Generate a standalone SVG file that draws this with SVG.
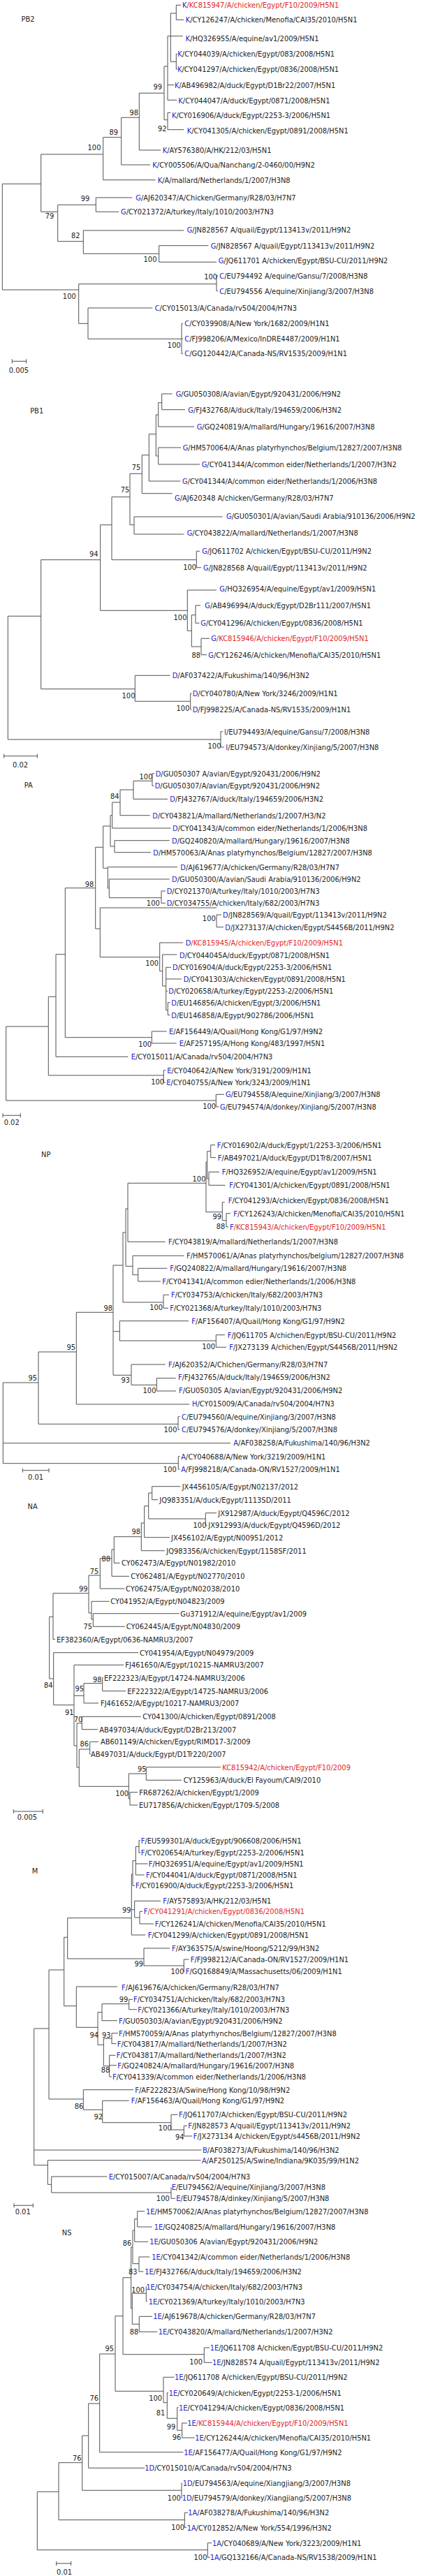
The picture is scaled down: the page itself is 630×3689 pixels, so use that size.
<svg xmlns="http://www.w3.org/2000/svg" width="630" height="3689" viewBox="0 0 630 3689">
<style>
text{font-family:"Liberation Sans Narrow","Arial Narrow","DejaVu Sans Condensed",sans-serif;font-size:11px;fill:#222}
.b{fill:#2424c8}
.r{fill:#e0262b}
.s{text-anchor:middle}
.ln path{fill:none;stroke:#505050;stroke-width:1}
</style>
<rect width="630" height="3689" fill="#fff"/>
<g id="connectors" class="ln">
<path id="e-pb2" d="M252.3,7.3V28.3M252.3,7.3H259M252.3,28.3H263.3M244.3,19V88.3M244.3,19H252.3M244.3,88.3H252.3M252.3,77.3V99M252.3,77.3H254M252.3,99H254M240,51.7V143.3M240,51.7H261.7M240,121.7H249.3M240,143.3H253.3M240,161.3V185.7M240,161.3H244.3M240,185.7H263.3M235,95V171.7M235,95H240M235,171.7H240M199.3,133.3V215M199.3,133.3H235M199.3,215H230M173.7,168.3V236M173.7,168.3H199.3M173.7,236H215M147.7,196.7V257.7M147.7,196.7H173.7M147.7,257.7H222.7M58.7,221V303.3M58.7,221H147.7M3.3,263.3V415M3.3,263.3H58.7M82.7,293.3V345.7M58.7,303.3H82.7M82.7,293.3H137.3M137.3,283V303.3M137.3,283H189.3M137.3,303.3H170M82.7,345.7H119.3M119.3,330V363.3M119.3,330H263.3M119.3,363.3H227.7M227.7,351.7V375.3M227.7,351.7H298.3M227.7,375.3H310M112.7,406.7V463.3M112.7,406.7H310M310,395V416.7M310,395H312M310,416.7H312M3.3,415H112.7M112.7,463.3H126M126,441V485.3M126,441H218.3M126,485.3H260M260,463.3V506.7M260,463.3H262M260,485H262M260,506.7H262M17.3,517.3H37.7M17.3,514.3V520.3M37.7,514.3V520.3"/>
<path id="e-pb1" d="M231.7,564V586.7M231.7,564H246.7M231.7,586.7H265M226.7,576.7V611M226.7,576.7H231.7M226.7,611H278M226.7,641V665M226.7,641H259M226.7,665H286M223.3,594V653M223.3,594H226.7M223.3,653H226.7M213.3,621.7V689M213.3,621.7H223.3M213.3,689H258.3M203.3,651.7V706.7M203.3,651.7H213.3M203.3,706.7H246.7M186,678.3V751.7M186,678.3H203.3M186,751.7H192M192,740V765M192,740H318.7M192,765H263.3M160,711.7V801.7M160,711.7H186M160,801.7H281.3M281.3,789.3V812.7M281.3,789.3H286M281.3,812.7H288M143.7,751.7V874.3M143.7,751.7H160M143.7,874.3H268.3M268.3,845V903.3M268.3,845H310M268.3,903.3H274.3M274.3,880.7V926M274.3,880.7H280M280,867V892.3M280,867H287M280,892.3H285.5M274.3,926H288M288,914.3V937.7M288,914.3H300M288,937.7H296M58.7,801.7V986.7M58.7,801.7H143.7M58.7,986.7H193.3M193.3,967.3V1004.3M193.3,967.3H243.3M193.3,1004.3H272.7M272.7,993V1016M272.7,993H274.5M272.7,1016H274.5M11.3,882.3V1059M11.3,882.3H58.7M11.3,1059H316M316,1047.7V1070M316,1047.7H319M316,1070H321M5.7,1082.7H53.3M5.7,1079.7V1085.7M53.3,1079.7V1085.7"/>
<path id="e-pa" d="M218,1107.7V1125.3M218,1107.7H221M218,1125.3H220.5M191,1118.3V1144.3M191,1118.3H218M191,1144.3H240M172,1131V1167.7M172,1131H191M172,1167.7H214.7M160.7,1149V1186M160.7,1149H172M160.7,1186H244.7M164,1203.7V1220.7M164,1203.7H242.7M164,1220.7H216M158,1167.7V1212M158,1167.7H160.7M158,1212H164M147.7,1183V1243.3M147.7,1183H158M147.7,1243.3H154.3M154.3,1241.7V1272M154.3,1241.7H254M154.3,1272H156.3M156.3,1259V1285.7M156.3,1259H242.7M156.3,1285.7H231M231,1276V1293.3M231,1276H237M231,1293.3H237M136.7,1213.3V1330M136.7,1213.3H147.7M136.7,1330H143.3M143.3,1300V1370.7M143.3,1300H310M143.3,1370.7H228.7M310,1310V1327.7M310,1310H317M310,1327.7H320M228.7,1350V1390.7M228.7,1350H262M228.7,1390.7H232.7M232.7,1367V1412M232.7,1367H253.3M232.7,1412H237.7M237.7,1385.3V1446.7M237.7,1385.3H245M237.7,1402H260M237.7,1419.3H240M237.7,1446.7H240.3M240.3,1435.7V1453.7M240.3,1435.7H243.5M240.3,1453.7H243.5M93.3,1271.7V1485.7M93.3,1271.7H136.7M93.3,1485.7H217.3M217.3,1477V1494M217.3,1477H238.7M217.3,1494H252.7M80,1366.7V1513.3M80,1366.7H93.3M80,1513.3H183.3M69.3,1427.3V1540M69.3,1427.3H80M69.3,1540H234.3M234.3,1532.7V1550.3M234.3,1532.7H237M234.3,1550.3H236.5M8.7,1470V1576M8.7,1470H69.3M8.7,1576H309.3M309.3,1567.3V1585M309.3,1567.3H321M309.3,1585H313.5M4,1597.3H29.3M4,1594.3V1600.3M29.3,1594.3V1600.3"/>
<path id="e-np" d="M301.7,1639.7V1657.7M301.7,1639.7H308M301.7,1657.7H309M299,1678.3V1697.3M299,1678.3H314M299,1697.3H322.7M296.7,1648.7V1688M296.7,1648.7H301.7M296.7,1688H299M295,1664.3V1735.7M295,1664.3H296.7M295,1735.7H318.3M318.3,1721.7V1747.7M318.3,1721.7H321.7M318.3,1747.7H324M324,1737.7V1757M324,1737.7H330M324,1757H327M183,1694.3V1778.3M183,1694.3H295M183,1778.3H236.7M197.7,1816.3V1835M197.7,1816.3H239.3M197.7,1835H230M190,1798.3V1825.7M190,1798.3H263.3M190,1825.7H197.7M180,1731V1813.3M180,1731H183M180,1813.3H190M176,1765V1865M176,1765H180M176,1865H234M234,1854.3V1873.3M234,1854.3H242M234,1873.3H241M162,1812V1969.3M162,1812H176M162,1906.7H171.3M162,1969.3H188M171.3,1891.7V1920M171.3,1891.7H270M171.3,1920H309.3M309.3,1911.7V1929.3M309.3,1911.7H322M309.3,1929.3H324M188,1954V1983.3M188,1954H236.7M188,1983.3H224.3M224.3,1973.7V1992M224.3,1973.7H251.7M224.3,1992H252M109.3,1879.3V2011M109.3,1879.3H162M109.3,2011H271.3M55,1936V2039.3M55,1936H109.3M55,2039.3H255M255,2028.7V2047.3M255,2028.7H257.5M255,2047.3H257.5M4.3,1980V2095.7M4.3,1980H55M4.3,2066.7H330M4.3,2095.7H255.3M255.3,2085.7V2104M255.3,2085.7H257.5M255.3,2104H257.5M32.3,2105.7H70M32.3,2102.7V2108.7M70,2102.7V2108.7"/>
<path id="e-na" d="M217.7,2128.7V2147.7M217.7,2128.7H258.3M217.7,2147.7H226M212.7,2138V2175M212.7,2138H217.7M212.7,2175H294.3M294.3,2166.7V2184.3M294.3,2166.7H310M294.3,2184.3H296.5M206.7,2156.7V2201.7M206.7,2156.7H212.7M206.7,2201.7H243M202.3,2181V2220.7M202.3,2181H206.7M202.3,2220.7H235.7M163.3,2200.7V2238.3M163.3,2200.7H202.3M163.3,2238.3H171.7M160,2219V2257.3M160,2219H163.3M160,2257.3H185M143.3,2231.7V2275M143.3,2231.7H160M143.3,2275H178.3M127,2256V2310M127,2256H143.3M127,2310H131M131,2293.3V2319M131,2293.3H156.7M131,2319H133.3M133.3,2310.7V2329.3M133.3,2310.7H256.7M133.3,2329.3H178.7M76,2281.7V2347.7M76,2281.7H127M76,2347.7H79M70.7,2315.3V2404M70.7,2315.3H76M70.7,2404H76.7M76.7,2366.7V2441.7M76.7,2366.7H198M76.7,2441.7H106M106,2384.3V2500M106,2384.3H177M106,2428.3H120M106,2500H110M120,2410.7V2439M120,2410.7H146.7M120,2439H141M146.7,2402.7V2421.7M146.7,2402.7H148M146.7,2421.7H180M110,2467.7V2531M110,2467.7H117.3M110,2531H113.3M117.3,2458.3V2476.7M117.3,2458.3H201.7M117.3,2476.7H140M113.3,2505V2558.3M113.3,2505H128.7M113.3,2558.3H184.3M128.7,2494.3V2512.3M128.7,2494.3H141M128.7,2512.3H129.5M184.3,2540V2576M184.3,2540H209.3M184.3,2576H186M209.3,2530.7V2549.3M209.3,2530.7H316M209.3,2549.3H260M186,2566.7V2585M186,2566.7H197M186,2585H197M19.3,2594H61.3M19.3,2591V2597M61.3,2591V2597"/>
<path id="e-m" d="M199,2635.7V2653.3M199,2635.7H201M199,2653.3H201M194.3,2644.5V2685M194.3,2644.5H199M194.3,2669H211.7M194.3,2685H206.7M190,2664.7V2700.3M190,2664.7H194.3M190,2700.3H193M188.3,2684V2771M188.3,2684H190M188.3,2734.7H192.7M188.3,2771H208.3M192.7,2722.3V2746M192.7,2722.3H230M192.7,2746H200M200,2737.3V2755M200,2737.3H204M200,2755H220M96.7,2746.7V2805M96.7,2746.7H188.3M96.7,2805H206M206,2790V2815M206,2790H243.3M206,2815H263.3M263.3,2806V2823.3M263.3,2806H270.5M263.3,2823.3H264.5M91.7,2774.3V2872.7M91.7,2774.3H96.7M91.7,2872.7H109.3M109.3,2845V2903.3M109.3,2845H168.3M109.3,2903.3H140M140,2881.7V2928.3M140,2881.7H146M140,2928.3H148.3M146,2869.7V2893.7M146,2869.7H184.7M146,2893.7H168M184.7,2863.3V2877.7M184.7,2863.3H190M184.7,2877.7H196M148.3,2919.3V2958.7M148.3,2919.3H160M148.3,2958.7H156.7M160,2911.7V2926.7M160,2911.7H169M160,2926.7H166.5M156.7,2943.3V2974M156.7,2943.3H165.5M156.7,2957.7H167M156.7,2974H160M70,2821V3006M70,2821H91.7M70,3006H119.3M119.3,2992.7V3021.3M119.3,2992.7H191M119.3,3021.3H146.7M146.7,3008.3V3039.7M146.7,3008.3H184.7M146.7,3039.7H245M245,3028.3V3050M245,3028.3H254.5M245,3050H263.3M263.3,3044.3V3059M263.3,3044.3H268M263.3,3059H275.5M48.7,2905V3100.7M48.7,2905H70M48.7,3079H288.3M48.7,3100.7H68.3M68.3,3093.7V3128.3M68.3,3093.7H287.7M68.3,3128.3H73.7M73.7,3117V3140M73.7,3117H153.3M73.7,3140H245M245,3132.3V3148.3M245,3148.3H251M20,3158.3H47.3M20,3155.3V3161.3M47.3,3155.3V3161.3"/>
<path id="e-ns" d="M196.7,3166.7V3189M196.7,3166.7H207M196.7,3189H217.7M192.7,3177.7V3210.3M192.7,3177.7H196.7M192.7,3210.3H212M199,3232V3253M199,3232H214.3M199,3253H205.3M190,3194V3241.7M190,3194H192.7M190,3241.7H199M209.3,3274.7V3295.7M209.3,3274.7H210M209.3,3295.7H211M199.3,3317.3V3339.3M199.3,3317.3H218M199.3,3339.3H225.3M189.3,3284.3V3328.3M189.3,3284.3H209.3M189.3,3328.3H199.3M187.7,3218V3306M187.7,3218H190M187.7,3306H189.3M176,3261.7V3371.7M176,3261.7H187.7M176,3371.7H292.3M165,3316.7V3424.3M165,3316.7H176M165,3424.3H234M292.3,3362V3383.3M292.3,3362H300M292.3,3383.3H303.5M142.7,3371V3511.7M142.7,3371H165M142.7,3511.7H262.3M234,3404.3V3440.7M234,3404.3H249.5M234,3440.7H239.3M239.3,3426.7V3463.3M239.3,3426.7H241M239.3,3463.3H253.7M253.7,3447.7V3480.3M253.7,3447.7H255.5M253.7,3480.3H260.7M260.7,3470V3491M260.7,3470H268M260.7,3491H278.7M126.7,3442V3534.3M126.7,3442H142.7M126.7,3534.3H207M117.7,3488V3566.3M117.7,3488H126.7M117.7,3566.3H260M260,3556V3577.3M260,3556H261M260,3577.3H261M84,3526.7V3608.7M84,3526.7H117.7M84,3608.7H264.3M264.3,3598.3V3619.7M264.3,3598.3H269M264.3,3619.7H267M53.3,3568.3V3651.7M53.3,3568.3H84M53.3,3651.7H297.3M297.3,3641.7V3662.3M297.3,3641.7H303.5M297.3,3662.3H300.5M80.7,3671H101.7M80.7,3668V3674M101.7,3668V3674"/>
</g>
<g id="titles">
<text x="40" y="31.1" class="s">PB2</text>
<text x="52.7" y="592.1" class="s">PB1</text>
<text x="40.7" y="1127.8" class="s">PA</text>
<text x="65.7" y="1657.1" class="s">NP</text>
<text x="46.7" y="2161.1" class="s">NA</text>
<text x="50" y="2682.5" class="s">M</text>
<text x="95.7" y="3200.5" class="s">NS</text>
</g>
<g id="scales">
<text x="27" y="533.8" class="s">0.005</text>
<text x="29" y="1098.8" class="s">0.02</text>
<text x="16.7" y="1610.5" class="s">0.02</text>
<text x="51" y="2118.8" class="s">0.01</text>
<text x="39" y="2606.1" class="s">0.005</text>
<text x="32.7" y="3171.1" class="s">0.01</text>
<text x="92" y="3686.5" class="s">0.01</text>
</g>
<g id="support" class="sup">
<text class="s" x="225.7" y="128.1">99</text><text class="s" x="191.7" y="164.8">98</text><text class="s" x="162.7" y="192.5">89</text><text class="s" x="135" y="214.8">100</text><text class="s" x="232.3" y="188.1">92</text><text class="s" x="122" y="288.1">99</text><text class="s" x="71" y="312.8">79</text><text class="s" x="108.3" y="341.1">82</text><text class="s" x="215" y="374.8">100</text><text class="s" x="301.7" y="399.5">100</text><text class="s" x="99.3" y="427.8">100</text><text class="s" x="249.3" y="498.1">100</text>
<text class="s" x="195" y="673.1">75</text><text class="s" x="179" y="705.1">75</text><text class="s" x="271.7" y="816.1">100</text><text class="s" x="134.3" y="797.1">94</text><text class="s" x="258" y="887.8">100</text><text class="s" x="280.7" y="941.5">88</text><text class="s" x="184" y="999.8">100</text><text class="s" x="262" y="1017.8">100</text><text class="s" x="307" y="1072.1">100</text>
<text class="s" x="209" y="1115.5">100</text><text class="s" x="164.3" y="1144.1">84</text><text class="s" x="128" y="1269.5">98</text><text class="s" x="219.3" y="1296.5">100</text><text class="s" x="299.3" y="1319.1">100</text><text class="s" x="217.7" y="1382.5">100</text><text class="s" x="207.7" y="1499.1">100</text><text class="s" x="225.7" y="1552.5">100</text><text class="s" x="299.7" y="1588.1">100</text>
<text class="s" x="285" y="1691.5">100</text><text class="s" x="310.7" y="1746.1">99</text><text class="s" x="316" y="1760.1">88</text><text class="s" x="223.7" y="1875.5">100</text><text class="s" x="154.7" y="1876.5">98</text><text class="s" x="298.7" y="1931.8">100</text><text class="s" x="101.7" y="1933.1">95</text><text class="s" x="179.7" y="1980.1">93</text><text class="s" x="214" y="1995.1">100</text><text class="s" x="46.7" y="1977.1">95</text><text class="s" x="244" y="2051.1">100</text><text class="s" x="243.3" y="2107.8">100</text>
<text class="s" x="286" y="2187.8">100</text><text class="s" x="194.7" y="2197.1">98</text><text class="s" x="151.7" y="2236.1">88</text><text class="s" x="135" y="2254.1">75</text><text class="s" x="119.3" y="2279.1">99</text><text class="s" x="125.7" y="2332.5">75</text><text class="s" x="69.3" y="2417.1">84</text><text class="s" x="139.3" y="2408.8">98</text><text class="s" x="113.7" y="2422.1">95</text><text class="s" x="99.3" y="2455.5">91</text><text class="s" x="112" y="2465.5">70</text><text class="s" x="120.7" y="2500.5">86</text><text class="s" x="203.3" y="2537.1">95</text><text class="s" x="174.7" y="2571.5">100</text>
<text class="s" x="181.3" y="2739.1">99</text><text class="s" x="198.7" y="2815.5">99</text><text class="s" x="254" y="2827.1">100</text><text class="s" x="177" y="2866.8">99</text><text class="s" x="134.7" y="2918.1">94</text><text class="s" x="152.3" y="2918.1">93</text><text class="s" x="151" y="2967.5">88</text><text class="s" x="113" y="3020.1">86</text><text class="s" x="140.7" y="3035.1">92</text><text class="s" x="236.3" y="3051.1">100</text><text class="s" x="257.3" y="3063.8">94</text><text class="s" x="233.3" y="3152.1">100</text>
<text class="s" x="182" y="3216.1">86</text><text class="s" x="190.3" y="3256.5">83</text><text class="s" x="197.7" y="3282.8">100</text><text class="s" x="192" y="3343.1">88</text><text class="s" x="156.7" y="3367.1">95</text><text class="s" x="280.7" y="3385.5">100</text><text class="s" x="222.7" y="3438.1">100</text><text class="s" x="230" y="3459.1">81</text><text class="s" x="245" y="3478.5">99</text><text class="s" x="253" y="3493.8">96</text><text class="s" x="134.7" y="3437.8">76</text><text class="s" x="110.3" y="3523.8">76</text><text class="s" x="249.3" y="3580.8">100</text><text class="s" x="254.7" y="3622.8">100</text><text class="s" x="287" y="3665.8">100</text>
</g>
<g id="PB2-leaves">
<g id="pb2-1"><text x="261" y="11.1" class="r"><tspan class="b">K</tspan>/KC815947/A/chicken/Egypt/F10/2009/H5N1</text></g>
<g id="pb2-2"><text x="265.7" y="32.1"><tspan class="b">K</tspan>/CY126247/A/chicken/Menofia/CAI35/2010/H5N1</text></g>
<g id="pb2-3"><text x="265.7" y="58.8"><tspan class="b">K</tspan>/HQ326955/A/equine/av1/2009/H5N1</text></g>
<g id="pb2-4"><text x="254.3" y="81.1"><tspan class="b">K</tspan>/CY044039/A/chicken/Egypt/083/2008/H5N1</text></g>
<g id="pb2-5"><text x="254" y="102.8"><tspan class="b">K</tspan>/CY041297/A/chicken/Egypt/0836/2008/H5N1</text></g>
<g id="pb2-6"><text x="250" y="125.5"><tspan class="b">K</tspan>/AB496982/A/duck/Egypt/D1Br22/2007/H5N1</text></g>
<g id="pb2-7"><text x="255.3" y="147.8"><tspan class="b">K</tspan>/CY044047/A/duck/Egypt/0871/2008/H5N1</text></g>
<g id="pb2-8"><text x="246" y="168.5"><tspan class="b">K</tspan>/CY016906/A/duck/Egypt/2253-3/2006/H5N1</text></g>
<g id="pb2-9"><text x="267.7" y="190.8"><tspan class="b">K</tspan>/CY041305/A/chicken/Egypt/0891/2008/H5N1</text></g>
<g id="pb2-10"><text x="232.7" y="218.8"><tspan class="b">K</tspan>/AY576380/A/HK/212/03/H5N1</text></g>
<g id="pb2-11"><text x="218.3" y="239.8"><tspan class="b">K</tspan>/CY005506/A/Qua/Nanchang/2-0460/00/H9N2</text></g>
<g id="pb2-12"><text x="225.7" y="261.5"><tspan class="b">K</tspan>/A/mallard/Netherlands/1/2007/H3N8</text></g>
<g id="pb2-13"><text x="194.3" y="286.8"><tspan class="b">G</tspan>/AJ620347/A/Chicken/Germany/R28/03/H7N7</text></g>
<g id="pb2-14"><text x="173" y="307.1"><tspan class="b">G</tspan>/CY021372/A/turkey/Italy/1010/2003/H7N3</text></g>
<g id="pb2-15"><text x="267.7" y="332.8"><tspan class="b">G</tspan>/JN828567 A/quail/Egypt/113413v/2011/H9N2</text></g>
<g id="pb2-16"><text x="301.7" y="355.5"><tspan class="b">G</tspan>/JN828567 A/quail/Egypt/113413v/2011/H9N2</text></g>
<g id="pb2-17"><text x="312.7" y="377.1"><tspan class="b">G</tspan>/JQ611701 A/chicken/Egypt/BSU-CU/2011/H9N2</text></g>
<g id="pb2-18"><text x="314.3" y="398.8"><tspan class="b">C</tspan>/EU794492 A/equine/Gansu/7/2008/H3N8</text></g>
<g id="pb2-19"><text x="314.3" y="420.5"><tspan class="b">C</tspan>/EU794556 A/equine/Xinjiang/3/2007/H3N8</text></g>
<g id="pb2-20"><text x="221.7" y="444.8"><tspan class="b">C</tspan>/CY015013/A/Canada/rv504/2004/H7N3</text></g>
<g id="pb2-21"><text x="264.3" y="466.5"><tspan class="b">C</tspan>/CY039908/A/New York/1682/2009/H1N1</text></g>
<g id="pb2-22"><text x="264.3" y="488.8"><tspan class="b">C</tspan>/FJ998206/A/Mexico/InDRE4487/2009/H1N1</text></g>
<g id="pb2-23"><text x="264.3" y="509.8"><tspan class="b">C</tspan>/GQ120442/A/Canada-NS/RV1535/2009/H1N1</text></g>
</g>
<g id="PB1-leaves">
<g id="pb1-1"><text x="251.7" y="567.8"><tspan class="b">G</tspan>/GU050308/A/avian/Egypt/920431/2006/H9N2</text></g>
<g id="pb1-2"><text x="269.3" y="590.5"><tspan class="b">G</tspan>/FJ432768/A/duck/Italy/194659/2006/H3N2</text></g>
<g id="pb1-3"><text x="281.7" y="614.8"><tspan class="b">G</tspan>/GQ240819/A/mallard/Hungary/19616/2007/H3N8</text></g>
<g id="pb1-4"><text x="261.7" y="644.8"><tspan class="b">G</tspan>/HM570064/A/Anas platyrhynchos/Belgium/12827/2007/H3N8</text></g>
<g id="pb1-5"><text x="288.7" y="668.8"><tspan class="b">G</tspan>/CY041344/A/common eider/Netherlands/1/2007/H3N2</text></g>
<g id="pb1-6"><text x="261" y="692.8"><tspan class="b">G</tspan>/CY041344/A/common eider/Netherlands/1/2006/H3N8</text></g>
<g id="pb1-7"><text x="250" y="717.1"><tspan class="b">G</tspan>/AJ620348 A/chicken/Germany/R28/03/H7N7</text></g>
<g id="pb1-8"><text x="324" y="743.1"><tspan class="b">G</tspan>/GU050301/A/avian/Saudi Arabia/910136/2006/H9N2</text></g>
<g id="pb1-9"><text x="267.7" y="766.5"><tspan class="b">G</tspan>/CY043822/A/mallard/Netherlands/1/2007/H3N8</text></g>
<g id="pb1-10"><text x="289.3" y="793.1"><tspan class="b">G</tspan>/JQ611702 A/chicken/Egypt/BSU-CU/2011/H9N2</text></g>
<g id="pb1-11"><text x="291" y="816.5"><tspan class="b">G</tspan>/JN828568 A/quail/Egypt/113413v/2011/H9N2</text></g>
<g id="pb1-12"><text x="314.3" y="847.1"><tspan class="b">G</tspan>/HQ326954/A/equine/Egypt/av1/2009/H5N1</text></g>
<g id="pb1-13"><text x="293.3" y="870.8"><tspan class="b">G</tspan>/AB496994/A/duck/Egypt/D2Br111/2007/H5N1</text></g>
<g id="pb1-14"><text x="287.3" y="896.1"><tspan class="b">G</tspan>/CY041296/A/chicken/Egypt/0836/2008/H5N1</text></g>
<g id="pb1-15"><text x="302.3" y="918.1" class="r"><tspan class="b">G</tspan>/KC815946/A/chicken/Egypt/F10/2009/H5N1</text></g>
<g id="pb1-16"><text x="298.3" y="941.5"><tspan class="b">G</tspan>/CY126246/A/chicken/Menofia/CAI35/2010/H5N1</text></g>
<g id="pb1-17"><text x="246.7" y="971.1"><tspan class="b">D</tspan>/AF037422/A/Fukushima/140/96/H3N2</text></g>
<g id="pb1-18"><text x="275.7" y="996.8"><tspan class="b">D</tspan>/CY040780/A/New York/3246/2009/H1N1</text></g>
<g id="pb1-19"><text x="275.7" y="1019.8"><tspan class="b">D</tspan>/FJ998225/A/Canada-NS/RV1535/2009/H1N1</text></g>
<g id="pb1-20"><text x="321" y="1051.5"><tspan class="b">I</tspan>/EU794493/A/equine/Gansu/7/2008/H3N8</text></g>
<g id="pb1-21"><text x="323.3" y="1073.8"><tspan class="b">I</tspan>/EU794573/A/donkey/Xinjiang/5/2007/H3N8</text></g>
</g>
<g id="PA-leaves">
<g id="pa-1"><text x="222.7" y="1111.5"><tspan class="b">D</tspan>/GU050307 A/avian/Egypt/920431/2006/H9N2</text></g>
<g id="pa-2"><text x="221.7" y="1129.1"><tspan class="b">D</tspan>/GU050307/A/avian/Egypt/920431/2006/H9N2</text></g>
<g id="pa-3"><text x="243.3" y="1148.1"><tspan class="b">D</tspan>/FJ432767/A/duck/Italy/194659/2006/H3N2</text></g>
<g id="pa-4"><text x="218.3" y="1171.5"><tspan class="b">D</tspan>/CY043821/A/mallard/Netherlands/1/2007/H3/N2</text></g>
<g id="pa-5"><text x="247" y="1189.8"><tspan class="b">D</tspan>/CY041343/A/common eider/Netherlands/1/2006/H3N8</text></g>
<g id="pa-6"><text x="246" y="1207.5"><tspan class="b">D</tspan>/GQ240820/A/mallard/Hungary/19616/2007/H3N8</text></g>
<g id="pa-7"><text x="219.3" y="1224.5"><tspan class="b">D</tspan>/HM570063/A/Anas platyrhynchos/Belgium/12827/2007/H3N8</text></g>
<g id="pa-8"><text x="258.3" y="1245.5"><tspan class="b">D</tspan>/AJ619677/A/chicken/Germany/R28/03/H7N7</text></g>
<g id="pa-9"><text x="246" y="1262.8"><tspan class="b">D</tspan>/GU050300/A/avian/Saudi Arabia/910136/2006/H9N2</text></g>
<g id="pa-10"><text x="238.7" y="1279.8"><tspan class="b">D</tspan>/CY021370/A/turkey/Italy/1010/2003/H7N3</text></g>
<g id="pa-11"><text x="238.7" y="1297.1"><tspan class="b">D</tspan>/CY034755/A/chicken/Italy/682/2003/H7N3</text></g>
<g id="pa-12"><text x="319" y="1313.8"><tspan class="b">D</tspan>/JN828569/A/quail/Egypt/113413v/2011/H9N2</text></g>
<g id="pa-13"><text x="322.3" y="1331.5"><tspan class="b">D</tspan>/JX273137/A/chicken/Egypt/S4456B/2011/H9N2</text></g>
<g id="pa-14"><text x="265.7" y="1353.8" class="r"><tspan class="b">D</tspan>/KC815945/A/chicken/Egypt/F10/2009/H5N1</text></g>
<g id="pa-15"><text x="257" y="1371.8"><tspan class="b">D</tspan>/CY044045A/duck/Egypt/0871/2008/H5N1</text></g>
<g id="pa-16"><text x="247" y="1389.1"><tspan class="b">D</tspan>/CY016904/A/duck/Egypt/2253-3/2006/H5N1</text></g>
<g id="pa-17"><text x="262.7" y="1405.8"><tspan class="b">D</tspan>/CY041303/A/chicken/Egypt/0891/2008/H5N1</text></g>
<g id="pa-18"><text x="241.3" y="1423.1"><tspan class="b">D</tspan>/CY020658/A/turkey/Egypt/2253-2/2006/H5N1</text></g>
<g id="pa-19"><text x="245.3" y="1439.5"><tspan class="b">D</tspan>/EU146856/A/chicken/Egypt/3/2006/H5N1</text></g>
<g id="pa-20"><text x="245.3" y="1457.5"><tspan class="b">D</tspan>/EU146858/A/Egypt/902786/2006/H5N1</text></g>
<g id="pa-21"><text x="242" y="1480.8"><tspan class="b">E</tspan>/AF156449/A/Quail/Hong Kong/G1/97/H9N2</text></g>
<g id="pa-22"><text x="256.7" y="1497.5"><tspan class="b">E</tspan>/AF257195/A/Hong Kong/483/1997/H5N1</text></g>
<g id="pa-23"><text x="187.7" y="1516.5"><tspan class="b">E</tspan>/CY015011/A/Canada/rv504/2004/H7N3</text></g>
<g id="pa-24"><text x="239.3" y="1536.5"><tspan class="b">E</tspan>/CY040642/A/New York/3191/2009/H1N1</text></g>
<g id="pa-25"><text x="238.3" y="1554.1"><tspan class="b">E</tspan>/CY040755/A/New York/3243/2009/H1N1</text></g>
<g id="pa-26"><text x="323" y="1571.1"><tspan class="b">G</tspan>/EU794558/A/equine/Xinjiang/3/2007/H3N8</text></g>
<g id="pa-27"><text x="315" y="1588.8"><tspan class="b">G</tspan>/EU794574/A/donkey/Xinjiang/5/2007/H3N8</text></g>
</g>
<g id="NP-leaves">
<g id="np-1"><text x="310.7" y="1643.5"><tspan class="b">F</tspan>/CY016902/A/duck/Egypt/1/2253-3/2006/H5N1</text></g>
<g id="np-2"><text x="311.7" y="1661.5"><tspan class="b">F</tspan>/AB497021/A/duck/Egypt/D1Tr8/2007/H5N1</text></g>
<g id="np-3"><text x="317.7" y="1682.1"><tspan class="b">F</tspan>/HQ326952/A/equine/Egypt/av1/2009/H5N1</text></g>
<g id="np-4"><text x="328.3" y="1701.1"><tspan class="b">F</tspan>/CY041301/A/chicken/Egypt/0891/2008/H5N1</text></g>
<g id="np-5"><text x="326.7" y="1722.8"><tspan class="b">F</tspan>/CY041293/A/chicken/Egypt/0836/2008/H5N1</text></g>
<g id="np-6"><text x="334.3" y="1741.5"><tspan class="b">F</tspan>/CY126243/A/chicken/Menofia/CAI35/2010/H5N1</text></g>
<g id="np-7"><text x="329" y="1760.8" class="r"><tspan class="b">F</tspan>/KC815943/A/chicken/Egypt/F10/2009/H5N1</text></g>
<g id="np-8"><text x="241" y="1782.1"><tspan class="b">F</tspan>/CY043819/A/mallard/Netherlands/1/2007/H3N8</text></g>
<g id="np-9"><text x="267" y="1802.1"><tspan class="b">F</tspan>/HM570061/A/Anas platyrhynchos/belgium/12827/2007/H3N8</text></g>
<g id="np-10"><text x="243.3" y="1820.1"><tspan class="b">F</tspan>/GQ240822/A/mallard/Hungary/19616/2007/H3N8</text></g>
<g id="np-11"><text x="232.3" y="1838.8"><tspan class="b">F</tspan>/CY041341/A/common edier/Netherlands/1/2006/H3N8</text></g>
<g id="np-12"><text x="245" y="1858.1"><tspan class="b">F</tspan>/CY034753/A/chicken/Italy/682/2003/H7N3</text></g>
<g id="np-13"><text x="243.3" y="1877.1"><tspan class="b">F</tspan>/CY021368/A/turkey/Italy/1010/2003/H7N3</text></g>
<g id="np-14"><text x="274.3" y="1895.5"><tspan class="b">F</tspan>/AF156407/A/Quail/Hong Kong/G1/97/H9N2</text></g>
<g id="np-15"><text x="325.7" y="1915.5"><tspan class="b">F</tspan>/JQ611705 A/chichen/Egypt/BSU-CU/2011/H9N2</text></g>
<g id="np-16"><text x="328.3" y="1933.1"><tspan class="b">F</tspan>/JX273139 A/chichen/Egypt/S4456B/2011/H9N2</text></g>
<g id="np-17"><text x="241" y="1957.8"><tspan class="b">F</tspan>/AJ620352/A/Chichen/Germany/R28/03/H7N7</text></g>
<g id="np-18"><text x="255" y="1976.1"><tspan class="b">F</tspan>/FJ432765/A/duck/Italy/194659/2006/H3N2</text></g>
<g id="np-19"><text x="256" y="1995.1"><tspan class="b">F</tspan>/GU050305 A/avian/Egypt/920431/2006/H9N2</text></g>
<g id="np-20"><text x="275" y="2014.1"><tspan class="b">H</tspan>/CY015009/A/Canada/rv504/2004/H7N3</text></g>
<g id="np-21"><text x="260" y="2032.5"><tspan class="b">C</tspan>/EU794560/A/equine/Xinjiang/3/2007/H3N8</text></g>
<g id="np-22"><text x="260" y="2051.1"><tspan class="b">C</tspan>/EU794576/A/donkey/Xinjiang/5/2007/H3N8</text></g>
<g id="np-23"><text x="334.3" y="2069.5"><tspan class="b">A</tspan>/AF038258/A/Fukushima/140/96/H3N2</text></g>
<g id="np-24"><text x="259.3" y="2089.5"><tspan class="b">A</tspan>/CY040688/A/New York/3219/2009/H1N1</text></g>
<g id="np-25"><text x="259.3" y="2107.8"><tspan class="b">A</tspan>/FJ998218/A/Canada-ON/RV1527/2009/H1N1</text></g>
</g>
<g id="NA-leaves">
<g id="na-1"><text x="260.7" y="2132.5">JX4456105/A/Egypt/N02137/2012</text></g>
<g id="na-2"><text x="228.3" y="2151.5">JQ983351/A/duck/Egypt/1113SD/2011</text></g>
<g id="na-3"><text x="312.3" y="2170.5">JX912987/A/duck/Egypt/Q4596C/2012</text></g>
<g id="na-4"><text x="298.3" y="2188.1">JX912993/A/duck/Egypt/Q4596D/2012</text></g>
<g id="na-5"><text x="245" y="2205.5">JX456102/A/Egypt/N00951/2012</text></g>
<g id="na-6"><text x="238.3" y="2224.5">JQ983356/A/chicken/Egypt/1158SF/2011</text></g>
<g id="na-7"><text x="174" y="2242.1">CY062473/A/Egypt/N01982/2010</text></g>
<g id="na-8"><text x="187.3" y="2260.5">CY062481/A/Egypt/N02770/2010</text></g>
<g id="na-9"><text x="180" y="2278.8">CY062475/A/Egypt/N02038/2010</text></g>
<g id="na-10"><text x="158.3" y="2297.1">CY041952/A/Egypt/N04823/2009</text></g>
<g id="na-11"><text x="258.3" y="2314.5">Gu371912/A/equine/Egypt/av1/2009</text></g>
<g id="na-12"><text x="180.7" y="2333.1">CY062445/A/Egypt/N04830/2009</text></g>
<g id="na-13"><text x="81" y="2351.5">EF382360/A/Egypt/0636-NAMRU3/2007</text></g>
<g id="na-14"><text x="200" y="2370.5">CY041954/A/Egypt/N04979/2009</text></g>
<g id="na-15"><text x="179.3" y="2388.1">FJ461650/A/Egypt/10215-NAMRU3/2007</text></g>
<g id="na-16"><text x="149" y="2406.5">EF222323/A/Egypt/14724-NAMRU3/2006</text></g>
<g id="na-17"><text x="182.3" y="2425.5">EF222322/A/Egypt/14725-NAMRU3/2006</text></g>
<g id="na-18"><text x="144" y="2442.8">FJ461652/A/Egypt/10217-NAMRU3/2007</text></g>
<g id="na-19"><text x="204.3" y="2461.5">CY041300/A/chicken/Egypt/0891/2008</text></g>
<g id="na-20"><text x="142.3" y="2480.5">AB497034/A/duck/Egypt/D2Br213/2007</text></g>
<g id="na-21"><text x="144" y="2498.1">AB601149/A/chicken/Egypt/RIMD17-3/2009</text></g>
<g id="na-22"><text x="130" y="2516.1">AB497031/A/duck/Egypt/D1Tr220/2007</text></g>
<g id="na-23"><text x="318.3" y="2534.5" class="r">KC815942/A/chicken/Egypt/F10/2009</text></g>
<g id="na-24"><text x="262.7" y="2553.1">CY125963/A/duck/El Fayoum/CAI9/2010</text></g>
<g id="na-25"><text x="199.3" y="2570.5">FR687262/A/chicken/Egypt/1/2009</text></g>
<g id="na-26"><text x="199" y="2588.8">EU717856/A/chicken/Egypt/1709-5/2008</text></g>
</g>
<g id="M-leaves">
<g id="m-1"><text x="201.7" y="2639.5"><tspan class="b">F</tspan>/EU599301/A/duck/Egypt/906608/2006/H5N1</text></g>
<g id="m-2"><text x="201.7" y="2657.1"><tspan class="b">F</tspan>/CY020654/A/turkey/Egypt/2253-2/2006/H5N1</text></g>
<g id="m-3"><text x="212.7" y="2672.8"><tspan class="b">F</tspan>/HQ326951/A/equine/Egypt/av1/2009/H5N1</text></g>
<g id="m-4"><text x="209" y="2688.8"><tspan class="b">F</tspan>/CY044041/A/duck/Egypt/0871/2008/H5N1</text></g>
<g id="m-5"><text x="194" y="2704.1"><tspan class="b">F</tspan>/CY016900/A/duck/Egypt/2253-3/2006/H5N1</text></g>
<g id="m-6"><text x="233.3" y="2726.1"><tspan class="b">F</tspan>/AY575893/A/HK/212/03/H5N1</text></g>
<g id="m-7"><text x="205.7" y="2741.1" class="r"><tspan class="b">F</tspan>/CY041291/A/chicken/Egypt/0836/2008/H5N1</text></g>
<g id="m-8"><text x="221.7" y="2758.8"><tspan class="b">F</tspan>/CY126241/A/chicken/Menofia/CAI35/2010/H5N1</text></g>
<g id="m-9"><text x="211.7" y="2774.8"><tspan class="b">F</tspan>/CY041299/A/chicken/Egypt/0891/2008/H5N1</text></g>
<g id="m-10"><text x="246" y="2793.8"><tspan class="b">F</tspan>/AY363575/A/swine/Hoong/5212/99/H3N2</text></g>
<g id="m-11"><text x="272.7" y="2809.8"><tspan class="b">F</tspan>/FJ998212/A/Canada-ON/RV1527/2009/H1N1</text></g>
<g id="m-12"><text x="265.7" y="2827.1"><tspan class="b">F</tspan>/GQ168849/A/Massachusetts/06/2009/H1N1</text></g>
<g id="m-13"><text x="174" y="2849.5"><tspan class="b">F</tspan>/AJ619676/A/chicken/Germany/R28/03/H7N7</text></g>
<g id="m-14"><text x="191" y="2867.1"><tspan class="b">F</tspan>/CY034751/A/chicken/Italy/682/2003/H7N3</text></g>
<g id="m-15"><text x="197.3" y="2881.5"><tspan class="b">F</tspan>/CY021366/A/turkey/Italy/1010/2003/H7N3</text></g>
<g id="m-16"><text x="170" y="2897.5"><tspan class="b">F</tspan>/GU050303/A/avian/Egypt/920431/2006/H9N2</text></g>
<g id="m-17"><text x="170" y="2915.5"><tspan class="b">F</tspan>/HM570059/A/Anas platyrhynchos/Belgium/12827/2007/H3N8</text></g>
<g id="m-18"><text x="167.7" y="2930.5"><tspan class="b">F</tspan>/CY043817/A/mallard/Netherlands/1/2007/H3N2</text></g>
<g id="m-19"><text x="166.7" y="2947.1"><tspan class="b">F</tspan>/CY043817/A/mallard/Netherlands/1/2007/H3N2</text></g>
<g id="m-20"><text x="168.3" y="2961.5"><tspan class="b">F</tspan>/GQ240824/A/mallard/Hungary/19616/2007/H3N8</text></g>
<g id="m-21"><text x="161" y="2977.8"><tspan class="b">F</tspan>/CY041339/A/common eider/Netherlands/1/2006/H3N8</text></g>
<g id="m-22"><text x="193.3" y="2996.5"><tspan class="b">F</tspan>/AF222823/A/Swine/Hong Kong/10/98/H9N2</text></g>
<g id="m-23"><text x="187.7" y="3012.1"><tspan class="b">F</tspan>/AF156463/A/Quail/Hong Kong/G1/97/H9N2</text></g>
<g id="m-24"><text x="256" y="3032.1"><tspan class="b">F</tspan>/JQ611707/A/chicken/Egypt/BSU-CU/2011/H9N2</text></g>
<g id="m-25"><text x="269.3" y="3048.1"><tspan class="b">F</tspan>/JN828573 A/quail/Egypt/113413v/2011/H9N2</text></g>
<g id="m-26"><text x="276.7" y="3062.8"><tspan class="b">F</tspan>/JX273134 A/chicken/Egypt/s4456B/2011/H9N2</text></g>
<g id="m-27"><text x="290" y="3082.8"><tspan class="b">B</tspan>/AF038273/A/Fukushima/140/96/H3N2</text></g>
<g id="m-28"><text x="289" y="3097.5"><tspan class="b">A</tspan>/AF250125/A/Swine/Indiana/9K035/99/H1N2</text></g>
<g id="m-29"><text x="155.7" y="3120.5"><tspan class="b">E</tspan>/CY015007/A/Canada/rv504/2004/H7N3</text></g>
<g id="m-30"><text x="245.7" y="3136.1"><tspan class="b">E</tspan>/EU794562/A/equine/Xinjiang/3/2007/H3N8</text></g>
<g id="m-31"><text x="252.3" y="3152.1"><tspan class="b">E</tspan>/EU794578/A/dinkey/Xinjiang/5/2007/H3N8</text></g>
</g>
<g id="NS-leaves">
<g id="ns-1"><text x="209" y="3170.5"><tspan class="b">1E</tspan>/HM570062/A/Anas platyrhynchos/Belgium/12827/2007/H3N8</text></g>
<g id="ns-2"><text x="220.7" y="3192.8"><tspan class="b">1E</tspan>/GQ240825/A/mallard/Hungary/19616/2007/H3N8</text></g>
<g id="ns-3"><text x="214.3" y="3214.1"><tspan class="b">1E</tspan>/GU050306 A/avian/Egypt/920431/2006/H9N2</text></g>
<g id="ns-4"><text x="217.3" y="3235.8"><tspan class="b">1E</tspan>/CY041342/A/common eider/Netherlands/1/2006/H3N8</text></g>
<g id="ns-5"><text x="207.3" y="3256.8"><tspan class="b">1E</tspan>/FJ432766/A/duck/Italy/194659/2006/H3N2</text></g>
<g id="ns-6"><text x="209.3" y="3278.5"><tspan class="b">1E</tspan>/CY034754/A/chicken/Italy/682/2003/H7N3</text></g>
<g id="ns-7"><text x="212.7" y="3299.5"><tspan class="b">1E</tspan>/CY021369/A/turkey/Italy/1010/2003/H7N3</text></g>
<g id="ns-8"><text x="219.3" y="3321.1"><tspan class="b">1E</tspan>/AJ619678/A/chicken/Germany/R28/03/H7N7</text></g>
<g id="ns-9"><text x="226.7" y="3343.1"><tspan class="b">1E</tspan>/CY043820/A/mallard/Netherlands/1/2007/H3N2</text></g>
<g id="ns-10"><text x="300.7" y="3365.8"><tspan class="b">1E</tspan>/JQ611708 A/chicken/Egypt/BSU-CU/2011/H9N2</text></g>
<g id="ns-11"><text x="304" y="3387.1"><tspan class="b">1E</tspan>/JN828574 A/quail/Egypt/113413v/2011/H9N2</text></g>
<g id="ns-12"><text x="250" y="3408.1"><tspan class="b">1E</tspan>/JQ611708 A/chicken/Egypt/BSU-CU/2011/H9N2</text></g>
<g id="ns-13"><text x="241.7" y="3430.5"><tspan class="b">1E</tspan>/CY020649/A/chicken/Egypt/2253-1/2006/H5N1</text></g>
<g id="ns-14"><text x="256" y="3451.5"><tspan class="b">1E</tspan>/CY041294/A/chicken/Egypt/0836/2008/H5N1</text></g>
<g id="ns-15"><text x="268.3" y="3473.8" class="r"><tspan class="b">1E</tspan>/KC815944/A/chicken/Egypt/F10/2009/H5N1</text></g>
<g id="ns-16"><text x="279.3" y="3494.8"><tspan class="b">1E</tspan>/CY126244/A/chicken/Menofia/CAI35/2010/H5N1</text></g>
<g id="ns-17"><text x="263.3" y="3515.5"><tspan class="b">1E</tspan>/AF156477/A/Quail/Hong Kong/G1/97/H9N2</text></g>
<g id="ns-18"><text x="207.3" y="3538.1"><tspan class="b">1D</tspan>/CY015010/A/Canada/rv504/2004/H7N3</text></g>
<g id="ns-19"><text x="261.7" y="3559.8"><tspan class="b">1D</tspan>/EU794563/A/equine/Xiangjiang/3/2007/H3N8</text></g>
<g id="ns-20"><text x="260.7" y="3581.1"><tspan class="b">1D</tspan>/EU794579/A/donkey/Xiangjiang/5/2007/H3N8</text></g>
<g id="ns-21"><text x="269.3" y="3602.1"><tspan class="b">1A</tspan>/AF038278/A/Fukushima/140/96/H3N2</text></g>
<g id="ns-22"><text x="267.7" y="3623.5"><tspan class="b">1A</tspan>/CY012852/A/New York/554/1996/H3N2</text></g>
<g id="ns-23"><text x="304" y="3645.5"><tspan class="b">1A</tspan>/CY040689/A/New York/3223/2009/H1N1</text></g>
<g id="ns-24"><text x="300.7" y="3666.1"><tspan class="b">1A</tspan>/GQ132166/A/Canada-NS/RV1538/2009/H1N1</text></g>
</g>
</svg>
